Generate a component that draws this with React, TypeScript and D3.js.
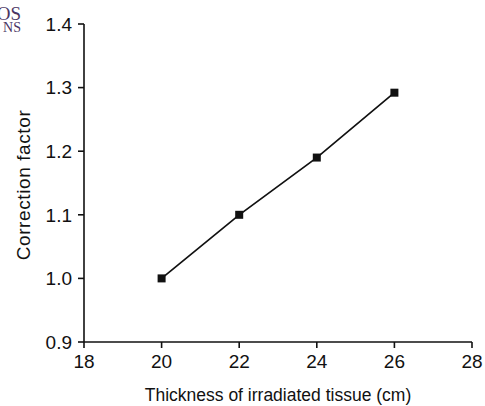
import React from "react";
import * as d3 from "d3";

const thickness = [20, 22, 24, 26];
const correction = [1.0, 1.1, 1.19, 1.292];
const xTicks = [18, 20, 22, 24, 26, 28];
const yTicks = [0.9, 1.0, 1.1, 1.2, 1.3, 1.4];

const W = 485;
const H = 406;

export default function App() {
  const x = d3.scaleLinear().domain([18, 28]).range([84, 472]);
  const y = d3.scaleLinear().domain([0.9, 1.4]).range([342, 24]);
  const pts = thickness.map((t, i) => [t, correction[i]] as [number, number]);
  const line = d3
    .line<[number, number]>()
    .x((d) => x(d[0]))
    .y((d) => y(d[1]));
  const font = "Arial, 'Liberation Sans', Helvetica, sans-serif";
  const ms = 8;
  return (
    <svg
      width={W}
      height={H}
      style={{ position: "absolute", left: 0, top: 0, background: "#fff" }}
    >
      <rect x={0} y={0} width={W} height={H} fill="#fff" />
      {/* cropped logo */}
      <text x={21} y={20} textAnchor="end" fontFamily="'Liberation Serif', 'DejaVu Serif', serif" fontSize={19} fill="#4a3564">
        OS
      </text>
      <text x={21} y={32} textAnchor="end" fontFamily="'Liberation Serif', 'DejaVu Serif', serif" fontSize={14} fill="#4a3564">
        NS
      </text>
      {/* axes */}
      <line x1={x(18)} x2={x(28)} y1={y(0.9)} y2={y(0.9)} stroke="#111" strokeWidth={1.6} />
      <line x1={x(18)} x2={x(18)} y1={y(0.9)} y2={y(1.4)} stroke="#111" strokeWidth={1.6} />
      {xTicks.map((t) => (
        <g key={"x" + t}>
          <line x1={x(t)} x2={x(t)} y1={y(0.9)} y2={y(0.9) + 6} stroke="#111" strokeWidth={1.6} />
          <text x={x(t)} y={y(0.9) + 26} textAnchor="middle" fontFamily={font} fontSize={19} fill="#111">
            {t}
          </text>
        </g>
      ))}
      {yTicks.map((t) => (
        <g key={"y" + t}>
          <line x1={x(18) - 6} x2={x(18)} y1={y(t)} y2={y(t)} stroke="#111" strokeWidth={1.6} />
          <text x={x(18) - 12} y={y(t)} dy="0.36em" textAnchor="end" fontFamily={font} fontSize={19} fill="#111">
            {t.toFixed(1)}
          </text>
        </g>
      ))}
      {/* series */}
      <path d={line(pts) || ""} fill="none" stroke="#111" strokeWidth={1.7} />
      {pts.map((p, i) => (
        <rect key={i} x={x(p[0]) - ms / 2} y={y(p[1]) - ms / 2} width={ms} height={ms} fill="#111" />
      ))}
      {/* titles */}
      <text x={278} y={401} textAnchor="middle" fontFamily={font} fontSize={17.5} fill="#111">
        Thickness of irradiated tissue (cm)
      </text>
      <text
        transform={`translate(30,185) rotate(-90)`}
        textAnchor="middle"
        fontFamily={font}
        fontSize={19}
        letterSpacing={0.6}
        fill="#111"
      >
        Correction factor
      </text>
    </svg>
  );
}
